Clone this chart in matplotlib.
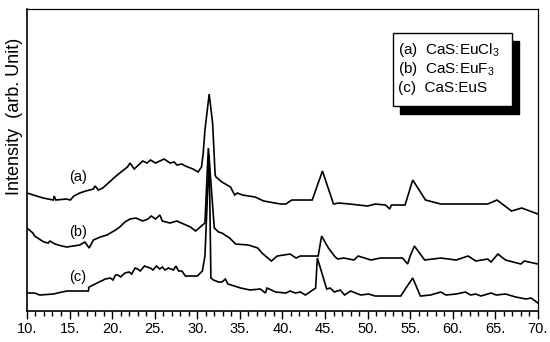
import matplotlib.pyplot as plt
from matplotlib.patches import Rectangle
from matplotlib.ticker import MultipleLocator, FuncFormatter

plt.rcParams["font.family"] = ["Liberation Sans", "DejaVu Sans"]
plt.rcParams["mathtext.fontset"] = "custom"
plt.rcParams["mathtext.rm"] = "Liberation Sans"
plt.rcParams["mathtext.it"] = "Liberation Sans"

# XRD patterns, 2-theta (deg) vs intensity (arb. units, offset per sample)
two_theta_a = [10.0, 11.9, 13.1, 13.2, 13.4, 14.6, 15.1, 15.5, 16.2, 16.9, 17.8, 18.0, 18.4,
               18.9, 20.6, 21.8, 22.1, 22.6, 23.6, 24.1, 24.5, 25.1, 26.1, 26.8, 27.3, 27.6,
               28.2, 28.6, 29.5, 29.9, 30.1, 30.5, 30.7, 30.9, 31.4, 31.8, 32.1, 32.2, 32.9,
               33.9, 34.4, 34.7, 35.3, 36.8, 37.8, 39.8, 40.4, 41.1, 43.5, 44.7, 46.0, 46.6,
               47.9, 50.0, 50.9, 52.1, 52.6, 52.8, 54.4, 55.3, 56.8, 58.6, 64.1, 65.2, 66.9,
               68.1, 70.0]
intensity_a = [118, 113, 111, 115, 111, 112, 111, 115, 118, 120, 122, 125, 121,
               123, 136, 144, 148, 142, 150, 148, 151, 148, 152, 148, 149, 146,
               147, 145, 142, 140, 139, 144, 158, 181, 217, 188, 136, 134, 129,
               124, 116, 118, 116, 114, 110, 107, 107, 111, 111, 140, 107, 108,
               107, 105, 107, 106, 102, 106, 106, 131, 111, 107, 107, 111, 100,
               103, 97]

two_theta_b = [10.0, 10.7, 10.9, 11.8, 12.0, 12.5, 12.7, 13.3, 14.1, 14.7, 15.4, 16.2, 16.8,
               17.3, 17.8, 18.6, 19.4, 19.8, 20.4, 20.9, 21.5, 22.1, 22.8, 23.6, 24.2, 24.6,
               25.1, 25.6, 25.9, 26.8, 27.6, 29.2, 29.8, 30.9, 31.3, 32.0, 32.5, 32.9, 33.8,
               34.5, 36.0, 37.1, 37.6, 38.7, 39.4, 40.9, 41.6, 42.1, 44.2, 44.6, 45.4, 46.2,
               46.5, 47.2, 48.4, 48.9, 50.4, 51.5, 54.1, 54.7, 55.0, 55.5, 56.7, 58.6, 60.4,
               61.8, 62.7, 64.1, 64.5, 65.3, 66.2, 68.0, 68.4, 70.0]
intensity_b = [83, 78, 75, 70, 69, 68, 70, 67, 65, 64, 65, 66, 69,
               63, 71, 74, 76, 78, 81, 84, 89, 92, 93, 90, 92, 95,
               92, 96, 90, 88, 90, 84, 80, 88, 163, 83, 79, 78, 73,
               67, 66, 63, 58, 50, 55, 57, 53, 55, 55, 75, 63, 54,
               52, 53, 51, 55, 51, 53, 53, 47, 55, 65, 51, 53, 51,
               55, 50, 52, 49, 57, 51, 47, 50, 47]

two_theta_c = [10.0, 10.9, 11.5, 13.1, 14.1, 14.7, 17.2, 17.3, 18.0, 19.2, 19.8, 20.1, 20.4,
               20.7, 21.0, 21.5, 22.0, 22.3, 22.7, 23.0, 23.3, 23.8, 24.1, 24.5, 24.8, 25.2,
               25.6, 25.9, 26.2, 26.6, 27.2, 27.5, 27.8, 28.2, 28.6, 30.0, 30.6, 30.9, 31.4,
               31.6, 31.9, 32.5, 32.9, 33.3, 33.6, 35.1, 36.2, 37.4, 38.0, 38.2, 39.2, 40.4,
               40.9, 41.5, 42.1, 42.7, 43.9, 44.1, 45.2, 45.6, 46.1, 46.8, 47.3, 48.0, 49.2,
               50.1, 50.9, 53.9, 54.5, 55.3, 56.2, 57.4, 58.6, 59.2, 60.4, 61.5, 62.1, 62.7,
               63.3, 64.5, 65.1, 66.2, 67.4, 68.6, 69.2, 70.0]
intensity_c = [18, 18, 16, 17, 19, 20, 20, 24, 27, 32, 33, 31, 36,
               36, 34, 38, 39, 37, 43, 42, 40, 45, 44, 43, 41, 45,
               42, 44, 41, 43, 41, 45, 40, 40, 35, 35, 40, 55, 156,
               33, 31, 29, 29, 32, 27, 23, 21, 22, 18, 23, 19, 18,
               20, 18, 19, 16, 23, 53, 22, 23, 19, 21, 16, 20, 16,
               17, 15, 15, 23, 33, 15, 16, 19, 16, 17, 19, 16, 17,
               15, 18, 16, 17, 14, 12, 13, 8]

curve_tags = ["(a)", "(b)", "(c)"]
tag_x = [16.0, 16.0, 16.0]
tag_y = [134, 79, 34]
legend_lines = [r"(a)  CaS:EuCl$_3$", r"(b)  CaS:EuF$_3$", r"(c)  CaS:EuS"]

fig = plt.figure(figsize=(5.5, 3.42), dpi=100)
ax = fig.add_axes([0.049, 0.0906, 0.929, 0.883])

for xs, ys in [(two_theta_a, intensity_a), (two_theta_b, intensity_b), (two_theta_c, intensity_c)]:
    ax.plot(xs, ys, color="black", linewidth=1.2, solid_joinstyle="miter")

for tag, tx, ty in zip(curve_tags, tag_x, tag_y):
    ax.text(tx, ty, tag, fontsize=10.5, ha="center", va="center")

ax.set_xlim(10, 70)
ax.set_ylim(0, 302)
ax.xaxis.set_major_locator(MultipleLocator(5))
ax.xaxis.set_minor_locator(MultipleLocator(1))
ax.xaxis.set_major_formatter(FuncFormatter(lambda v, p: f"{int(round(v))}."))
ax.tick_params(axis="x", which="major", direction="out", length=6, width=1, labelsize=10.5, pad=2)
ax.tick_params(axis="x", which="minor", direction="out", length=3.5, width=1)
ax.set_yticks([])
for side in ["left", "bottom"]:
    ax.spines[side].set_linewidth(1.2)
for side in ["top", "right"]:
    ax.spines[side].set_linewidth(0.9)

fig.text(0.027, 0.66, "Intensity  (arb. Unit)", rotation=90, fontsize=13,
         ha="center", va="center")

# legend box with drop shadow
bx, by, bw, bh = 0.7145, 0.690, 0.2164, 0.2135
fig.patches.append(Rectangle((bx + 0.013, by - 0.024), bw, bh, transform=fig.transFigure,
                             facecolor="black", edgecolor="black", zorder=5))
fig.patches.append(Rectangle((bx, by), bw, bh, transform=fig.transFigure,
                             facecolor="white", edgecolor="black", linewidth=1.0, zorder=6))
for i, line in enumerate(legend_lines):
    fig.text(bx + 0.009, 0.854 - i * 0.056, line, fontsize=11, ha="left", va="center", zorder=7)

fig.savefig("out.png", dpi=100)
